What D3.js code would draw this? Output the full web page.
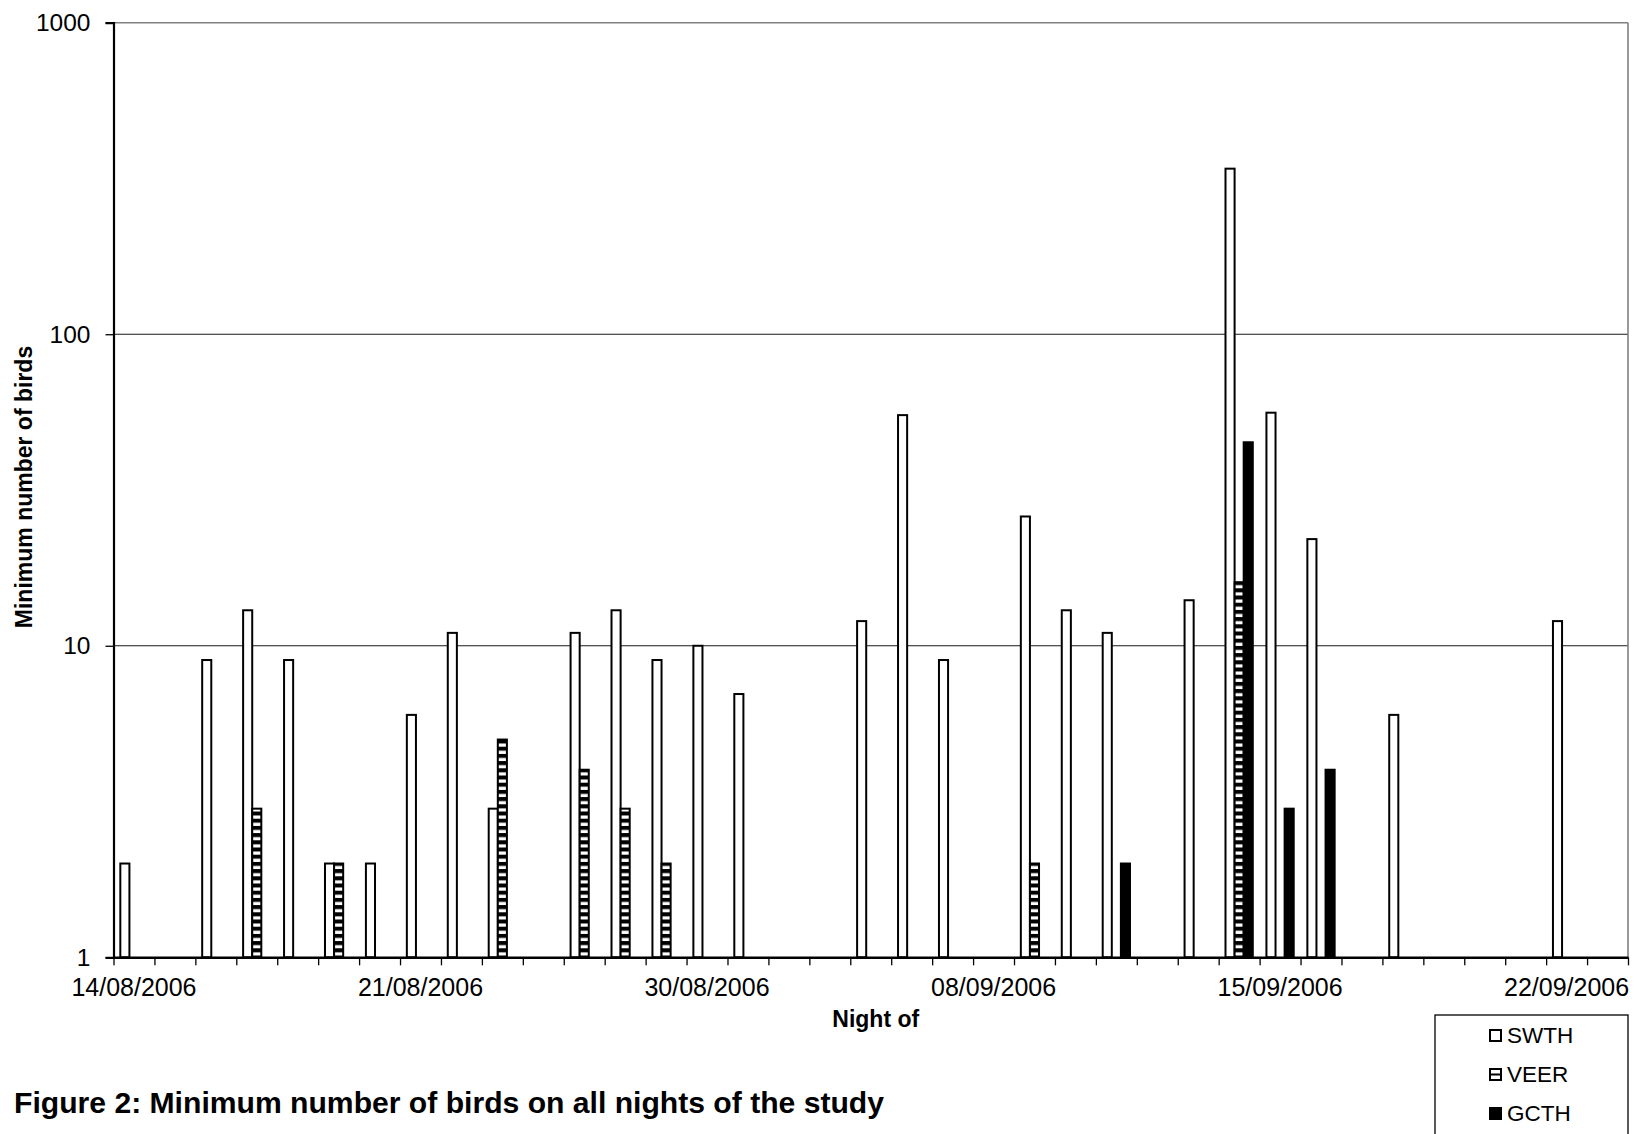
<!DOCTYPE html>
<html>
<head>
<meta charset="utf-8">
<script src="https://cdn.jsdelivr.net/npm/d3@7"></script>
<style>
  body { margin: 0; background: #fff; }
  svg text { font-family: "Liberation Sans", Arial, sans-serif; fill: #000; }
</style>
</head>
<body>
<svg width="1648" height="1134"></svg>
<script>
// Nights of the study (one category per night)
var nights = [
  "14/08/2006","15/08/2006","16/08/2006","17/08/2006","18/08/2006","19/08/2006","20/08/2006",
  "21/08/2006","22/08/2006","24/08/2006","25/08/2006","26/08/2006","27/08/2006","29/08/2006",
  "30/08/2006","31/08/2006","01/09/2006","02/09/2006","04/09/2006","05/09/2006","07/09/2006",
  "08/09/2006","09/09/2006","10/09/2006","11/09/2006","12/09/2006","13/09/2006","14/09/2006",
  "15/09/2006","16/09/2006","17/09/2006","18/09/2006","19/09/2006","20/09/2006","21/09/2006",
  "22/09/2006","23/09/2006"
];

var seriesNames = ["SWTH", "VEER", "GCTH"];

// counts per night (0 = none seen, not drawn on the log axis)
var swth = [2,0,9,13,9,2,2, 6,11,3,0,11,13,9, 10,7,0,0,12,55,9, 0,26,13,11,0,14,340, 56,22,0,6,0,0,0, 12,0];
var veer = [0,0,0,3,0,2,0, 0,0,5,0,4,3,2, 0,0,0,0,0,0,0, 0,2,0,0,0,0,16, 0,0,0,0,0,0,0, 0,0];
var gcth = [0,0,0,0,0,0,0, 0,0,0,0,0,0,0, 0,0,0,0,0,0,0, 0,0,0,2,0,0,45, 3,4,0,0,0,0,0, 0,0];

var yTicks = [1, 10, 100, 1000];
var labelEvery = 7;

var svg = d3.select("svg");

var plotL = 113.5, plotR = 1628, plotT = 22.7, plotB = 957.3;

var x = d3.scaleBand()
    .domain(nights)
    .range([plotL, plotR])
    .padding(0);

var xs = d3.scaleBand()
    .domain(seriesNames)
    .range([0, x.bandwidth()])
    .paddingInner(0)
    .paddingOuter(0.75);

var y = d3.scaleLog()
    .domain([1, 1000])
    .range([plotB, plotT]);

// striped fill for VEER
var defs = svg.append("defs");
var pat = defs.append("pattern")
    .attr("id", "stripes")
    .attr("patternUnits", "userSpaceOnUse")
    .attr("width", 20)
    .attr("height", 7.2)
    .attr("y", plotB);
pat.append("rect").attr("width", 20).attr("height", 7.2).attr("fill", "#000");
pat.append("rect").attr("y", 2.2).attr("width", 20).attr("height", 3.2).attr("fill", "#fff");

var fills = { SWTH: "#fff", VEER: "url(#stripes)", GCTH: "#000" };

// gridlines
svg.append("g")
    .selectAll("line")
    .data(yTicks.slice(1))
    .enter().append("line")
    .attr("x1", plotL).attr("x2", plotR)
    .attr("y1", function (d) { return y(d); })
    .attr("y2", function (d) { return y(d); })
    .style("stroke", function (d) { return d === 1000 ? "#808080" : "#1a1a1a"; })
    .style("stroke-width", function (d) { return d === 1000 ? 1.6 : 1.2; });

// right border of the plot area
svg.append("line")
    .attr("x1", plotR).attr("x2", plotR)
    .attr("y1", plotT).attr("y2", plotB)
    .style("stroke", "#808080")
    .style("stroke-width", 1.6);

// bars
var rows = [];
nights.forEach(function (n, i) {
  [swth[i], veer[i], gcth[i]].forEach(function (v, k) {
    if (v > 0) rows.push({ night: n, series: seriesNames[k], value: v });
  });
});

svg.append("g")
    .selectAll("rect")
    .data(rows)
    .enter().append("rect")
    .attr("x", function (d) { return x(d.night) + xs(d.series); })
    .attr("width", xs.bandwidth())
    .attr("y", function (d) { return y(d.value); })
    .attr("height", function (d) { return y(1) - y(d.value); })
    .style("fill", function (d) { return fills[d.series]; })
    .style("stroke", "#000")
    .style("stroke-width", 2);

// y axis
var yAxis = svg.append("g")
    .attr("transform", "translate(" + plotL + ",0)")
    .call(d3.axisLeft(y).tickValues(yTicks).tickFormat(d3.format("d")).tickSize(8).tickPadding(15));
yAxis.select(".domain").style("stroke", "#000").style("stroke-width", 2.2);
yAxis.selectAll(".tick line").style("stroke", "#000").style("stroke-width", 1.3);
yAxis.selectAll("text").style("font-size", "24.5px").style("font-family", "'Liberation Sans', Arial, sans-serif");

// x axis: tick marks between nights
var xi = d3.scaleLinear().domain([0, nights.length]).range([plotL, plotR]);
var xTicks = svg.append("g")
    .attr("transform", "translate(0," + plotB + ")")
    .call(d3.axisBottom(xi).tickValues(d3.range(nights.length + 1)).tickFormat("").tickSize(8).tickSizeOuter(0));
xTicks.select(".domain").style("stroke", "#000").style("stroke-width", 2.6);
xTicks.selectAll(".tick line").style("stroke", "#000").style("stroke-width", 1.3);

// x axis labels, every 7th night
var xLabels = svg.append("g")
    .attr("transform", "translate(0," + plotB + ")")
    .call(d3.axisBottom(x)
        .tickValues(nights.filter(function (d, i) { return i % labelEvery === 0 && i < 36; }))
        .tickSize(0).tickPadding(21));
xLabels.select(".domain").remove();
xLabels.selectAll("text").style("font-size", "25px").style("font-family", "'Liberation Sans', Arial, sans-serif");

// axis titles
svg.append("text")
    .attr("x", (plotL + plotR) / 2 + 5)
    .attr("y", 1027)
    .attr("text-anchor", "middle")
    .style("font-size", "23px")
    .style("font-weight", "bold")
    .text("Night of");

svg.append("text")
    .attr("transform", "translate(32," + ((plotT + plotB) / 2 - 3) + ") rotate(-90)")
    .attr("text-anchor", "middle")
    .style("font-size", "23px")
    .style("font-weight", "bold")
    .text("Minimum number of birds");

// figure caption
svg.append("text")
    .attr("x", 14)
    .attr("y", 1113)
    .attr("textLength", 870)
    .attr("lengthAdjust", "spacingAndGlyphs")
    .style("font-size", "30px")
    .style("font-weight", "bold")
    .text("Figure 2: Minimum number of birds on all nights of the study");

// legend
var legend = svg.append("g").attr("transform", "translate(1435,1015)");
legend.append("rect")
    .attr("width", 193).attr("height", 140)
    .style("fill", "#fff")
    .style("stroke", "#000")
    .style("stroke-width", 1.3);

var items = legend.selectAll(".item")
    .data(seriesNames)
    .enter().append("g")
    .attr("class", "item")
    .attr("transform", function (d, i) { return "translate(0," + (28 + i * 39) + ")"; });

items.append("rect")
    .attr("x", 55).attr("y", -13)
    .attr("width", 11).attr("height", 11)
    .style("fill", function (d) { return d === "GCTH" ? "#000" : "#fff"; })
    .style("stroke", "#000")
    .style("stroke-width", 2);

items.filter(function (d) { return d === "VEER"; })
    .append("line")
    .attr("x1", 55).attr("x2", 66)
    .attr("y1", -7.5).attr("y2", -7.5)
    .style("stroke", "#000")
    .style("stroke-width", 2);

items.append("text")
    .attr("x", 72)
    .attr("y", 0)
    .style("font-size", "22.5px")
    .text(function (d) { return d; });
</script>
</body>
</html>
